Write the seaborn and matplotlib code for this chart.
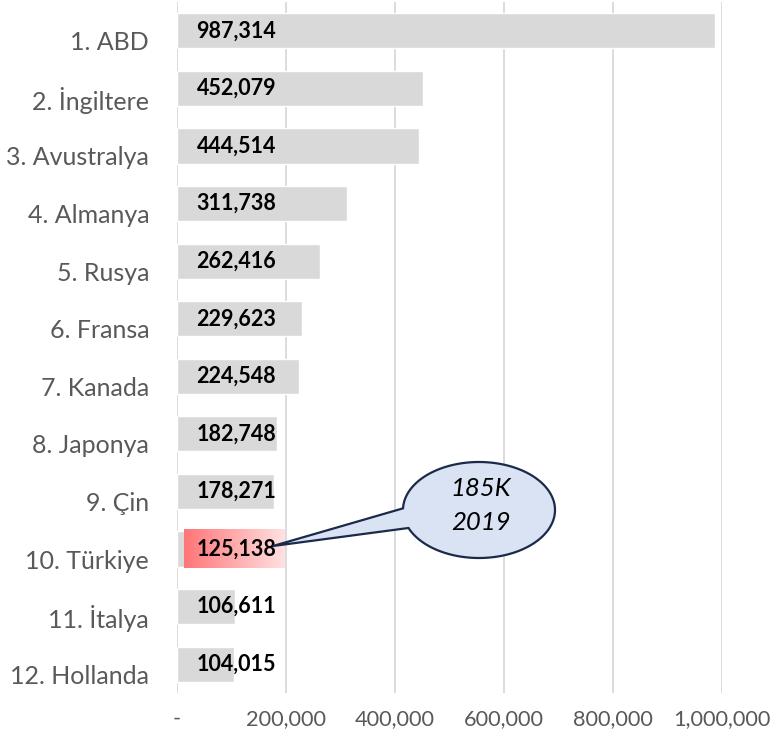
import numpy as np
import pandas as pd
import matplotlib
matplotlib.use("Agg")
import matplotlib.pyplot as plt
import seaborn as sns
from matplotlib.patches import Polygon
from matplotlib.colors import LinearSegmentedColormap
from matplotlib.ticker import FuncFormatter
from matplotlib.transforms import ScaledTranslation

countries = ["1. ABD", "2. İngiltere", "3. Avustralya", "4. Almanya", "5. Rusya",
             "6. Fransa", "7. Kanada", "8. Japonya", "9. Çin", "10. Türkiye",
             "11. İtalya", "12. Hollanda"]
values = [987314, 452079, 444514, 311738, 262416, 229623, 224548, 182748,
          178271, 125138, 106611, 104015]
highlight = "10. Türkiye"
callout_lines = ["185K", "2019"]
x_ticks = [0, 200000, 400000, 600000, 800000, 1000000]

sns.set_theme(style="white")
plt.rcParams["font.family"] = ["Lato", "DejaVu Sans"]

W, H = 771, 740
fig = plt.figure(figsize=(W / 100, H / 100), dpi=100)
ax = fig.add_axes([177 / W, 1 - 693 / H, (722 - 177) / W, (693 - 2) / H])

df = pd.DataFrame({"country": countries, "value": values})
sns.barplot(data=df, x="value", y="country", orient="h", color="#D9D9D9",
            saturation=1, width=0.61, ax=ax, zorder=2)

ax.set_xticks(x_ticks)
ax.xaxis.set_major_formatter(FuncFormatter(lambda v, p: "-" if v == 0 else f"{v:,.0f}"))
ax.grid(axis="x", color="#D9D9D9", linewidth=1.3, zorder=0)
ax.set_axisbelow(True)
for s in ax.spines.values():
    s.set_visible(False)
ax.set_xlabel("")
ax.set_ylabel("")
ax.tick_params(axis="y", length=0, pad=20, labelsize=18, labelcolor="#595959")
ax.tick_params(axis="x", length=0, pad=11.5, labelsize=15.7, labelcolor="#595959")
shift = ScaledTranslation(0, -10 / 100, fig.dpi_scale_trans)
for lab in ax.get_yticklabels():
    lab.set_transform(lab.get_transform() + shift)

# gradient label box for highlighted bar
hi = countries.index(highlight)
grad = LinearSegmentedColormap.from_list("g", ["#FF7577", "#FFE1E2"])
ax.imshow(np.linspace(0, 1, 256).reshape(1, -1), cmap=grad, aspect="auto",
          extent=(12800, 198000, hi + 0.33, hi - 0.33), zorder=3)
ax.set_xlim(0, 1000000)
ax.set_ylim(11.5, -0.5)

for i, v in enumerate(values):
    ax.text(36000, i, f"{v:,}", ha="left", va="center", fontsize=15.5,
            fontweight="bold", color="black", zorder=4)

# callout bubble (pixel geometry -> figure fraction)
cx, cy, a, b = 479, 510, 76, 48
t = np.radians(np.linspace(182, 518, 200))
px = cx + a * np.cos(t)
py = cy + b * np.sin(t)
tip = (273, 546)
px = np.append(px, tip[0])
py = np.append(py, tip[1])
pts = np.column_stack([px / W, 1 - py / H])
bubble = Polygon(pts, closed=True, facecolor="#DAE3F3", edgecolor="#1B2A4A",
                 linewidth=1.6, transform=fig.transFigure, zorder=10)
fig.add_artist(bubble)
fig.text(481 / W, 1 - 488 / H, callout_lines[0], ha="center", va="center",
         fontsize=18.5, fontstyle="italic", color="black", zorder=11)
fig.text(481 / W, 1 - 522 / H, callout_lines[1], ha="center", va="center",
         fontsize=18.5, fontstyle="italic", color="black", zorder=11)

fig.savefig("out.png", dpi=100)
